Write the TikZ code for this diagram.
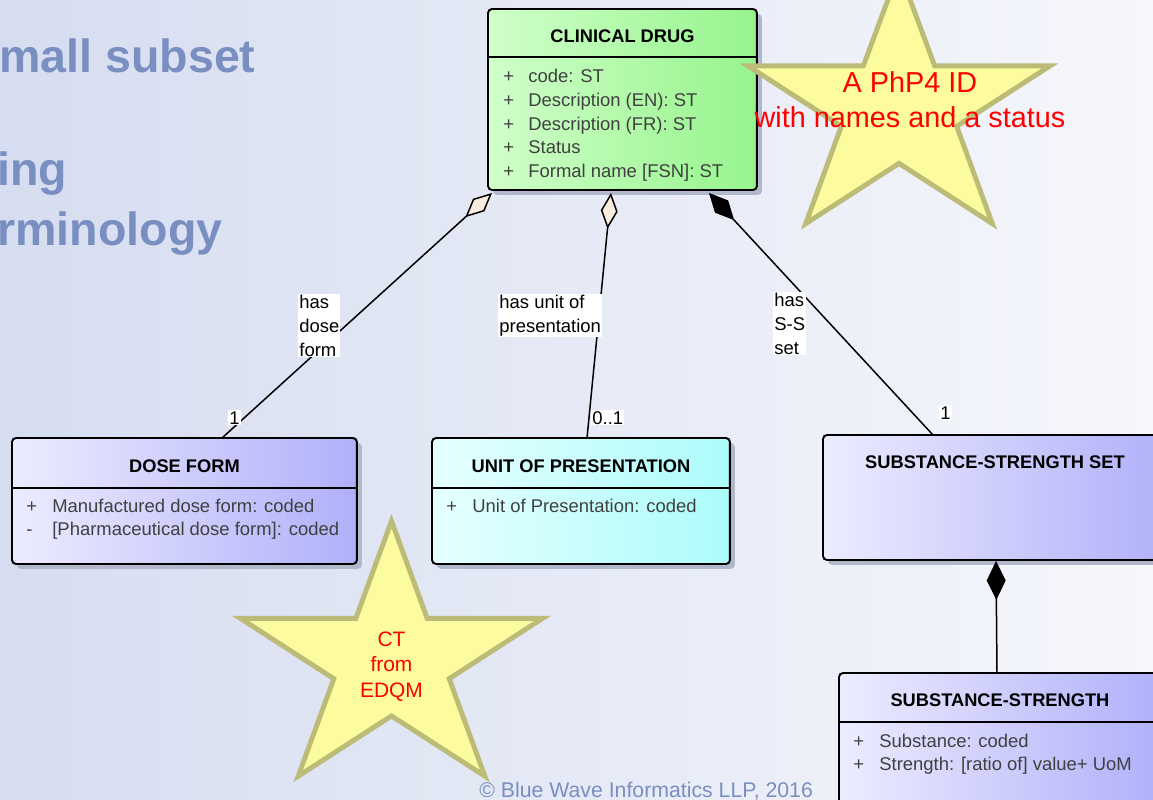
\documentclass[tikz,border=0pt]{standalone}
\usepackage{fontspec}
\setmainfont{Liberation Sans}
\usepackage{tikz}
\usetikzlibrary{calc}
\usetikzlibrary{arrows.meta}
\usetikzlibrary{shadows}

\definecolor{bgleft}{RGB}{214,221,240}
\definecolor{bgright}{RGB}{246,247,252}
\definecolor{slidetext}{RGB}{122,143,193}
\definecolor{greenlight}{RGB}{208,255,202}
\definecolor{greendark}{RGB}{150,244,140}
\definecolor{violetlight}{RGB}{236,236,255}
\definecolor{violetdark}{RGB}{176,176,250}
\definecolor{cyanlight}{RGB}{230,255,255}
\definecolor{cyandark}{RGB}{172,252,250}
\definecolor{boxshadow}{RGB}{178,184,204}
\definecolor{attrgray}{RGB}{64,64,64}
\definecolor{aggfill}{RGB}{250,236,220}
\definecolor{starfill}{RGB}{252,252,158}
\definecolor{starline}{RGB}{188,188,120}

\begin{document}
\begin{tikzpicture}[x=0.02cm, y=-0.02cm,
  umlbox/.style={draw, line width=1.1pt, rounded corners=2.3pt, anchor=north west,
    inner sep=0pt, outer sep=0pt,
    drop shadow={shadow xshift=2.8pt, shadow yshift=-2.8pt, fill=boxshadow, opacity=1}},
  boxtitle/.style={anchor=base, inner sep=0pt, font=\fontsize{10.4}{12.5}\selectfont\bfseries},
  attr/.style={anchor=base west, inner sep=0pt, text=attrgray, font=\fontsize{10.5}{12.6}\selectfont},
  divider/.style={line width=1.1pt},
  assoc/.style={line width=0.85pt},
  assoclabel/.style={anchor=north west, align=left, fill=white, inner sep=0.6pt,
    font=\fontsize{10.5}{13.6}\selectfont},
  mult/.style={anchor=base west, fill=white, inner sep=0.6pt, font=\fontsize{10.5}{12.6}\selectfont},
  starshape/.style={line width=2.8pt, draw=starline, fill=starfill},
  startext/.style={text=red, align=center, inner sep=0pt},
  slidetitle/.style={anchor=base west, inner sep=0pt, text=slidetext,
    font=\fontsize{26.5}{31}\selectfont\bfseries}]
  \useasboundingbox (0,0) rectangle (1153,799);
  \clip (0,0) rectangle (1153,799);
  \shade[left color=bgleft, right color=bgright] (0,0) rectangle (1153,799);

  % slide text behind the model
  \node[slidetitle] (title-a) at (-1,72) {mall subset};
  \node[slidetitle] (title-b) at (-3,185) {ing};
  \node[slidetitle] (title-c) at (-3,245) {rminology};

  % classes
  \node[umlbox, left color=greenlight, right color=greendark,
    minimum width=5.38cm, minimum height=3.62cm] (cd) at (488,9) {};
  \node[boxtitle] (cd-title) at ($(cd.north)+(0,33)$) {CLINICAL DRUG};
  \draw[divider] ($(cd.north west)+(0,48)$) -- ($(cd.north east)+(0,48)$);
  \node[attr] (cd-p1) at ($(cd.north west)+(15,73)$) {+};
  \node[attr] (cd-a1) at ($(cd.north west)+(40,73)$) {code: ST};
  \node[attr] (cd-p2) at ($(cd.north west)+(15,97)$) {+};
  \node[attr] (cd-a2) at ($(cd.north west)+(40,97)$) {Description (EN): ST};
  \node[attr] (cd-p3) at ($(cd.north west)+(15,121)$) {+};
  \node[attr] (cd-a3) at ($(cd.north west)+(40,121)$) {Description (FR): ST};
  \node[attr] (cd-p4) at ($(cd.north west)+(15,144)$) {+};
  \node[attr] (cd-a4) at ($(cd.north west)+(40,144)$) {Status};
  \node[attr] (cd-p5) at ($(cd.north west)+(15,168)$) {+};
  \node[attr] (cd-a5) at ($(cd.north west)+(40,168)$) {Formal name [FSN]: ST};

  \node[umlbox, left color=violetlight, right color=violetdark,
    minimum width=6.9cm, minimum height=2.52cm] (doseform) at (12,438) {};
  \node[boxtitle] (doseform-title) at ($(doseform.north)+(0,34)$) {DOSE FORM};
  \draw[divider] ($(doseform.north west)+(0,50)$) -- ($(doseform.north east)+(0,50)$);
  \node[attr] (doseform-p1) at ($(doseform.north west)+(14,74)$) {+};
  \node[attr] (doseform-a1) at ($(doseform.north west)+(40,74)$) {Manufactured dose form: coded};
  \node[attr] (doseform-p2) at ($(doseform.north west)+(14,97)$) {-};
  \node[attr] (doseform-a2) at ($(doseform.north west)+(40,97)$) {[Pharmaceutical dose form]: coded};

  \node[umlbox, left color=cyanlight, right color=cyandark,
    minimum width=5.96cm, minimum height=2.52cm] (unitpres) at (432,438) {};
  \node[boxtitle] (unitpres-title) at ($(unitpres.north)+(0,34)$) {UNIT OF PRESENTATION};
  \draw[divider] ($(unitpres.north west)+(0,50)$) -- ($(unitpres.north east)+(0,50)$);
  \node[attr] (unitpres-p1) at ($(unitpres.north west)+(14,74)$) {+};
  \node[attr] (unitpres-a1) at ($(unitpres.north west)+(40,74)$) {Unit of Presentation: coded};

  \node[umlbox, left color=violetlight, right color=violetdark,
    minimum width=6.88cm, minimum height=2.5cm] (ssset) at (823,435) {};
  \node[boxtitle] (ssset-title) at ($(ssset.north)+(0,33)$) {SUBSTANCE-STRENGTH SET};

  \node[umlbox, left color=violetlight, right color=violetdark,
    minimum width=6.44cm, minimum height=2.8cm] (ss) at (839,673) {};
  \node[boxtitle] (ss-title) at ($(ss.north)+(0,33)$) {SUBSTANCE-STRENGTH};
  \draw[divider] ($(ss.north west)+(0,49)$) -- ($(ss.north east)+(0,49)$);
  \node[attr] (ss-p1) at ($(ss.north west)+(14,74)$) {+};
  \node[attr] (ss-a1) at ($(ss.north west)+(40,74)$) {Substance: coded};
  \node[attr] (ss-p2) at ($(ss.north west)+(14,97)$) {+};
  \node[attr] (ss-a2) at ($(ss.north west)+(40,97)$) {Strength: [ratio of] value+ UoM};

  % associations
  \draw[assoc, {Diamond[fill=aggfill, length=0.72cm, width=0.34cm]}-]
    ($(cd.south west)+(4,3)$) -- ($(doseform.north west)+(210,0)$);
  \draw[assoc, {Diamond[fill=aggfill, length=0.72cm, width=0.34cm]}-]
    ($(cd.south west)+(123,3)$) -- ($(unitpres.north west)+(155,0)$);
  \draw[assoc, {Diamond[length=0.74cm, width=0.36cm]}-]
    ($(cd.south west)+(221,3)$) -- ($(ssset.north west)+(110,0)$);
  \draw[assoc, {Diamond[length=0.78cm, width=0.38cm]}-]
    ($(ssset.south west)+(173,1)$) -- ($(ss.north west)+(158,0)$);

  \node[assoclabel] (lbl-dose) at (298,293.5) {has\\dose\\form};
  \node[assoclabel] (lbl-unit) at (498,293.5) {has unit of\\presentation};
  \node[assoclabel] (lbl-ss) at (773,291.5) {has\\S-S\\set};
  \node[mult] (m-dose) at (228,424) {1};
  \node[mult] (m-unit) at (591,424) {0..1};
  \node[mult] (m-ss) at (939,419) {1};

  % stars
  \draw[starshape] (899,-30) -- (934.7,65.9) -- (1050,65.9) -- (956.7,126.2) -- (992.3,223.6)
    -- (899,163.4) -- (805.7,223.6) -- (841.3,126.2) -- (748,65.9) -- (863.3,65.9) -- cycle;
  \node[startext, font=\fontsize{16.4}{19.8}\selectfont] (star-php) at (910,99.5)
    {A PhP4 ID\\with names and a status};
  \draw[starshape] (391.5,521) -- (427.2,618.4) -- (542.5,618.4) -- (449.2,678.7) -- (484.8,776.1)
    -- (391.5,715.9) -- (298.2,776.1) -- (333.8,678.7) -- (240.5,618.4) -- (355.8,618.4) -- cycle;
  \node[startext, font=\fontsize{11.9}{14.5}\selectfont] (star-ct) at (391.5,666.5)
    {CT\\from\\EDQM};

  \node[anchor=base west, inner sep=0pt, text=slidetext, font=\fontsize{12.1}{14}\selectfont]
    (copyright) at (479,797) {© Blue Wave Informatics LLP, 2016};
\end{tikzpicture}
\end{document}
